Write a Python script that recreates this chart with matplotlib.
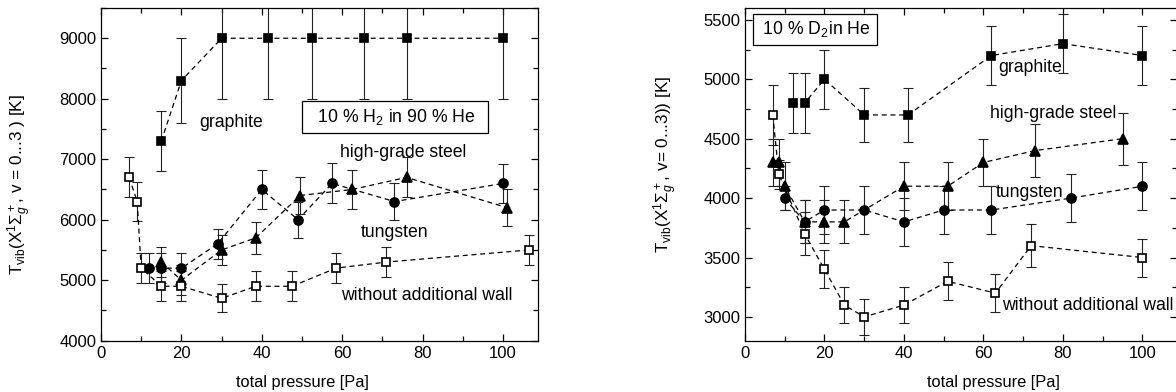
import matplotlib
matplotlib.use('Agg')
import matplotlib.pyplot as plt
from matplotlib.ticker import MultipleLocator

plt.rcParams['font.family'] = ['Liberation Sans', 'DejaVu Sans']
plt.rcParams['mathtext.fontset'] = 'custom'
plt.rcParams['mathtext.rm'] = 'Liberation Sans'
plt.rcParams['mathtext.it'] = 'Liberation Sans:italic'
plt.rcParams['mathtext.sf'] = 'Liberation Sans'

# ---- left panel: 10 % H2 in 90 % He ----
h_graph_x = [15, 20, 30, 41.5, 52.5, 65.5, 76, 100]
h_graph_y = [7300, 8300, 9000, 9000, 9000, 9000, 9000, 9000]
h_graph_e = [500, 700, 1000, 1000, 1000, 1000, 1000, 1000]

h_steel_x = [15, 20, 30, 38.5, 49.5, 62.5, 76, 101]
h_steel_y = [5300, 5000, 5500, 5700, 6400, 6500, 6700, 6200]
h_steel_e = [250, 250, 250, 270, 300, 320, 330, 300]

h_tung_x = [12, 15, 20, 29, 40, 49, 57.5, 73, 100]
h_tung_y = [5200, 5200, 5200, 5600, 6500, 6000, 6600, 6300, 6600]
h_tung_e = [250, 250, 250, 250, 320, 300, 330, 300, 320]

h_wall_x = [7, 9, 10, 15, 20, 30, 38.5, 47.5, 58.5, 71, 106.5]
h_wall_y = [6700, 6300, 5200, 4900, 4900, 4700, 4900, 4900, 5200, 5300, 5500]
h_wall_e = [330, 320, 250, 250, 250, 230, 250, 250, 250, 250, 250]

# ---- right panel: 10 % D2 in He ----
d_graph_x = [12, 15, 20, 30, 41, 62, 80, 100]
d_graph_y = [4800, 4800, 5000, 4700, 4700, 5200, 5300, 5200]
d_graph_e = [250, 250, 250, 230, 230, 250, 250, 250]

d_steel_x = [7, 8.5, 10, 15, 20, 25, 40, 51, 60, 73, 95]
d_steel_y = [4300, 4300, 4100, 3800, 3800, 3800, 4100, 4100, 4300, 4400, 4500]
d_steel_e = [200, 200, 200, 180, 180, 180, 200, 200, 200, 220, 220]

d_tung_x = [10, 15, 20, 30, 40, 50, 62, 82, 100]
d_tung_y = [4000, 3800, 3900, 3900, 3800, 3900, 3900, 4000, 4100]
d_tung_e = [100, 180, 200, 200, 200, 200, 200, 200, 200]

d_wall_x = [7, 8.5, 15, 20, 25, 30, 40, 51, 63, 72, 100]
d_wall_y = [4700, 4200, 3700, 3400, 3100, 3000, 3100, 3300, 3200, 3600, 3500]
d_wall_e = [250, 120, 180, 160, 150, 150, 150, 160, 160, 180, 160]

W, H = 1176, 392
fig = plt.figure(figsize=(W / 100, H / 100), dpi=100)
axL = fig.add_axes([101 / W, 51.3 / H, 437 / W, 332.7 / H])
axR = fig.add_axes([745 / W, 51.3 / H, 432 / W, 332.7 / H])


def series(ax, x, y, e, marker, ms, face):
    ax.errorbar(x, y, yerr=e, fmt='none', ecolor='#222222', elinewidth=0.8,
                capsize=3.3, capthick=0.8, zorder=2)
    ax.plot(x, y, ls=(0, (4, 3)), color='black', lw=0.9, marker=marker,
            ms=ms, mfc=face, mec='black', mew=1.2, zorder=3)


def style(ax, ymin, ymax, ymaj, ymin_step):
    ax.set_xlim(0, 108.7)
    ax.set_ylim(ymin, ymax)
    ax.xaxis.set_major_locator(MultipleLocator(20))
    ax.xaxis.set_minor_locator(MultipleLocator(10))
    ax.yaxis.set_major_locator(MultipleLocator(ymaj))
    ax.yaxis.set_minor_locator(MultipleLocator(ymin_step))
    ax.tick_params(which='both', direction='in', top=True, right=True,
                   labelsize=12, width=0.9)
    ax.tick_params(which='major', length=5)
    ax.tick_params(which='minor', length=3.5)
    for s in ax.spines.values():
        s.set_linewidth(0.9)


for ax, data in [(axL, [(h_graph_x, h_graph_y, h_graph_e, 's', 5.5, 'black'),
                        (h_steel_x, h_steel_y, h_steel_e, '^', 7, 'black'),
                        (h_tung_x, h_tung_y, h_tung_e, 'o', 6.5, 'black'),
                        (h_wall_x, h_wall_y, h_wall_e, 's', 5.2, 'white')]),
                 (axR, [(d_graph_x, d_graph_y, d_graph_e, 's', 5.5, 'black'),
                        (d_steel_x, d_steel_y, d_steel_e, '^', 7, 'black'),
                        (d_tung_x, d_tung_y, d_tung_e, 'o', 6.5, 'black'),
                        (d_wall_x, d_wall_y, d_wall_e, 's', 5.2, 'white')])]:
    for x, y, e, m, ms, fc in data:
        series(ax, x, y, e, m, ms, fc)

style(axL, 4000, 9500, 1000, 500)
style(axR, 2800, 5600, 500, 250)

fs = 12.7
axL.text(32.3, 7600, 'graphite', fontsize=fs, ha='center', va='center')
axL.text(73.1, 7700, '  10 % H$_2$ in 90 % He  ', fontsize=fs, ha='center', va='center',
         bbox=dict(boxstyle='square,pad=0.35', fc='white', ec='black', lw=0.9))
axL.text(75.2, 7116, 'high-grade steel', fontsize=fs, ha='center', va='center')
axL.text(73.1, 5795, 'tungsten', fontsize=fs, ha='center', va='center')
axL.text(81.1, 4750, 'without additional wall', fontsize=fs, ha='center', va='center')

axR.text(17.6, 5420, ' 10 % D$_2$in He ', fontsize=fs, ha='center', va='center',
         bbox=dict(boxstyle='square,pad=0.3', fc='white', ec='black', lw=0.9))
axR.text(63.7, 5096, 'graphite', fontsize=fs, ha='left', va='center')
axR.text(61.7, 4713, 'high-grade steel', fontsize=fs, ha='left', va='center')
axR.text(63.2, 4048, 'tungsten', fontsize=fs, ha='left', va='center')
axR.text(64.7, 3093, 'without additional wall', fontsize=fs, ha='left', va='center')

axL.set_ylabel(r'T$_{\rm vib}$(X$^1\Sigma_g^+$, v = 0...3 ) [K]', fontsize=12.3, va='center')
axL.yaxis.set_label_coords(-0.185, 0.47)
axR.set_ylabel(r'T$_{\rm vib}$(X$^1\Sigma_g^+$, v= 0...3)) [K]', fontsize=12.3, va='center')
axR.yaxis.set_label_coords(-0.183, 0.53)

axL.set_xlabel('total pressure [Pa]', fontsize=11.8, va='center')
axL.xaxis.set_label_coords(0.461, -0.127)
axR.set_xlabel('total pressure [Pa]', fontsize=11.8, va='center')
axR.xaxis.set_label_coords(0.574, -0.127)

fig.savefig('out.png', dpi=100)
